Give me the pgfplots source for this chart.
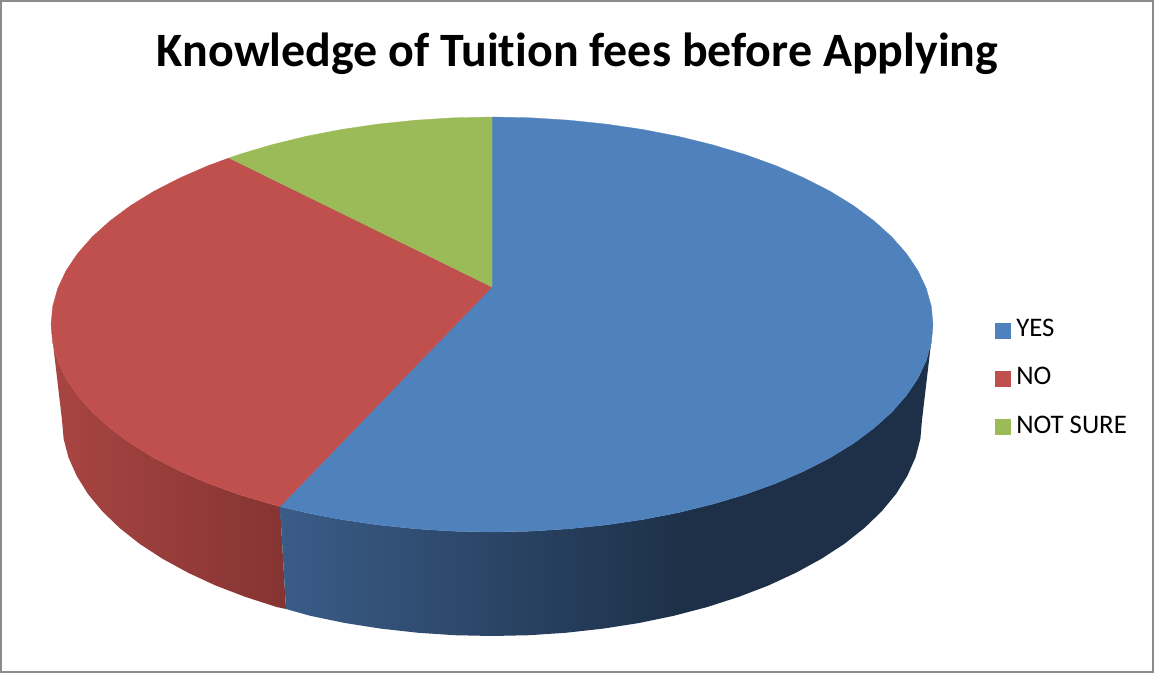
\documentclass[border=0pt]{standalone}
\usepackage{fontspec}
\setmainfont[Ligatures=NoCommon]{Carlito}
\usepackage{pgfplots}
\pgfplotsset{compat=1.18}
\definecolor{cblue}{HTML}{4F81BD}
\definecolor{cred}{HTML}{C0504D}
\definecolor{cgreen}{HTML}{9BBB59}
\definecolor{frame}{HTML}{8C8C8C}
\definecolor{bA}{HTML}{3A5C88}
\definecolor{bB}{HTML}{1D3048}
\definecolor{rA}{HTML}{A84542}
\definecolor{rB}{HTML}{853432}
\pgfdeclarehorizontalshading{blueside}{100bp}{color(0bp)=(bA); color(25bp)=(bA); color(56bp)=(bB); color(100bp)=(bB)}
\pgfdeclarehorizontalshading{redside}{100bp}{color(0bp)=(rA); color(25bp)=(rA); color(75bp)=(rB); color(100bp)=(rB)}
\begin{document}
\begin{tikzpicture}
\path[use as bounding box] (0,0) rectangle (1154bp,675bp);
\begin{axis}[
  at={(0,0)}, anchor=south west,
  width=1154bp, height=675bp, scale only axis,
  xmin=0, xmax=1154, ymin=0, ymax=675, y dir=reverse,
  hide axis, clip=false,
  title={\bfseries Knowledge of Tuition fees before Applying},
  title style={at={(axis cs:577.5,72.5)}, anchor=base, inner sep=0pt, font=\fontsize{47.9bp}{52bp}\selectfont},
  legend style={draw=none, fill=none, at={(axis cs:995,318.8)}, anchor=north west,
    font=\fontsize{26.8bp}{28bp}\selectfont, row sep=29bp, inner sep=0pt, outer sep=0pt,
    nodes={inner sep=0pt, text height=18bp, text depth=0bp}},
  legend cell align=left,
  legend image code/.code={\fill[#1] (0bp,-10bp) rectangle (15bp,5bp); \path (21bp,0bp);},
]
% frame
\addplot[draw=frame, line width=2.2bp, forget plot] coordinates {(1,0.8) (1153,0.8) (1153,672) (1,672)} --cycle;
% side of NO
\addplot[shade, shading=redside, draw=none, forget plot] coordinates {
 (51,324.5) (52.7,342.6) (57.7,360.5) (66,378.2) (77.6,395.5) (92.3,412.2) (110.1,428.2) (130.7,443.5) (154.2,457.9) (180.2,471.2) (208.5,483.5) (239,494.5) (271.5,504.2) (280,506.5)
 (286,609) (277,607.1) (245.4,596.9) (215.6,585.5) (188,572.7) (162.6,558.8) (139.7,543.9) (119.6,528) (102.3,511.3) (87.9,493.9) (76.7,475.9) (68.5,457.5) (63.6,438.8) (62,420) (52,335)} --cycle;
% side of YES
\addplot[shade, shading=blueside, draw=none, forget plot] coordinates {
 (280,506.5) (305.6,512.6) (341.2,519.5) (377.9,524.9) (415.4,528.8) (453.6,531.2) (492,532) (530.4,531.2) (568.6,528.8) (606.1,524.9) (642.8,519.5) (678.4,512.6) (712.5,504.2) (745,494.5) (775.5,483.5) (803.8,471.2) (829.8,457.9) (853.3,443.5) (873.9,428.2) (891.7,412.2) (906.4,395.5) (918,378.2) (926.3,360.5) (931.3,342.6) (933,324.5)
 (932,335) (922,420) (920.4,438.8) (915.5,457.5) (907.3,475.9) (896.1,493.9) (881.7,511.3) (864.4,528) (844.3,543.9) (821.4,558.8) (796,572.7) (768.4,585.5) (738.6,596.9) (707,607.1) (673.7,615.8) (639.1,623) (603.3,628.6) (566.6,632.7) (529.5,635.2) (492,636) (454.5,635.2) (417.4,632.7) (380.7,628.6) (344.9,623) (310.3,615.8) (286,609)} --cycle;
% top: YES
\addplot[fill=cblue, draw=cblue, line width=0.3bp] coordinates {
 (492,287) (492,117) (530.4,117.8) (568.6,120.2) (606.1,124.1) (642.8,129.5) (678.4,136.4) (712.5,144.8) (745,154.5) (775.5,165.5) (803.8,177.8) (829.8,191.1) (853.3,205.5) (873.9,220.8) (891.7,236.8) (906.4,253.5) (918,270.8) (926.3,288.5) (931.3,306.4) (933,324.5) (931.3,342.6) (926.3,360.5) (918,378.2) (906.4,395.5) (891.7,412.2) (873.9,428.2) (853.3,443.5) (829.8,457.9) (803.8,471.2) (775.5,483.5) (745,494.5) (712.5,504.2) (678.4,512.6) (642.8,519.5) (606.1,524.9) (568.6,528.8) (530.4,531.2) (492,532) (453.6,531.2) (415.4,528.8) (377.9,524.9) (341.2,519.5) (305.6,512.6) (280,506.5)} --cycle;
\addlegendentry{YES}
% top: NO
\addplot[fill=cred, draw=cred, line width=0.3bp] coordinates {
 (492,287) (280,506.5) (271.5,504.2) (239,494.5) (208.5,483.5) (180.2,471.2) (154.2,457.9) (130.7,443.5) (110.1,428.2) (92.3,412.2) (77.6,395.5) (66,378.2) (57.7,360.5) (52.7,342.6) (51,324.5) (52.7,306.4) (57.7,288.5) (66,270.8) (77.6,253.5) (92.3,236.8) (110.1,220.8) (130.7,205.5) (154.2,191.1) (180.2,177.8) (208.5,165.5) (229,158)} --cycle;
\addlegendentry{NO}
% top: NOT SURE
\addplot[fill=cgreen, draw=cgreen, line width=0.3bp] coordinates {
 (492,287) (229,158) (239,154.5) (271.5,144.8) (305.6,136.4) (341.2,129.5) (377.9,124.1) (415.4,120.2) (453.6,117.8) (492,117)} --cycle;
\addlegendentry{NOT SURE}
\end{axis}
\end{tikzpicture}
\end{document}
